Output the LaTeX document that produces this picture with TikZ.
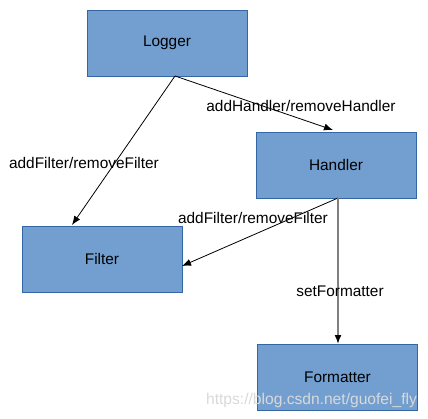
\documentclass[tikz,border=0pt]{standalone}
\usepackage{fontspec}
\setmainfont{Liberation Sans}
\usetikzlibrary{arrows.meta}
\definecolor{boxfill}{HTML}{729FCF}
\definecolor{boxline}{HTML}{3465A4}
\begin{document}
\begin{tikzpicture}[x=1pt,y=-1pt,
  box/.style={draw=boxline,fill=boxfill,line width=0.8pt,minimum width=160pt,minimum height=66pt,inner sep=0pt,font=\fontsize{15.4}{18}\selectfont},
  lbl/.style={font=\fontsize{15.4}{18}\selectfont,inner sep=0pt},
  conn/.style={-{Latex[length=9pt,width=7pt]},line width=0.8pt,black},
  gconn/.style={line width=1.6pt,black!50,
    arrows={-{Latex[length=9pt,width=7pt,fill=black,color=black]}}}]
\useasboundingbox (0,0) rectangle (428,419);
\node[box] (logger) at (167,43) {Logger};
\node[box] (handler) at (336,165) {Handler};
\node[box] (filter) at (102,259) {Filter};
\node[box] (formatter) at (337.5,377.5) {Formatter};
\coordinate (ls) at (175,76);
\coordinate (hs) at (338,198);
\coordinate (fa) at (72,225);
\coordinate (ha) at (333,130);
\coordinate (fe) at (182,266);
\coordinate (fm) at (338,344);
\draw[conn] (ls) -- (fa);
\draw[conn] (ls) -- (ha);
\draw[conn] (hs) -- (fe);
\draw[gconn] (hs) -- (fm);
\node[lbl] (l1) at (84,163) {addFilter/removeFilter};
\node[lbl] (l2) at (301,106) {addHandler/removeHandler};
\node[lbl] (l3) at (253,218) {addFilter/removeFilter};
\node[lbl] (l4) at (340,291) {setFormatter};
\node[lbl,text=black!15,font=\fontsize{15.6}{18}\selectfont] (wm) at (311.5,400) {https://blog.csdn.net/guofei\_fly};
\end{tikzpicture}
\end{document}
